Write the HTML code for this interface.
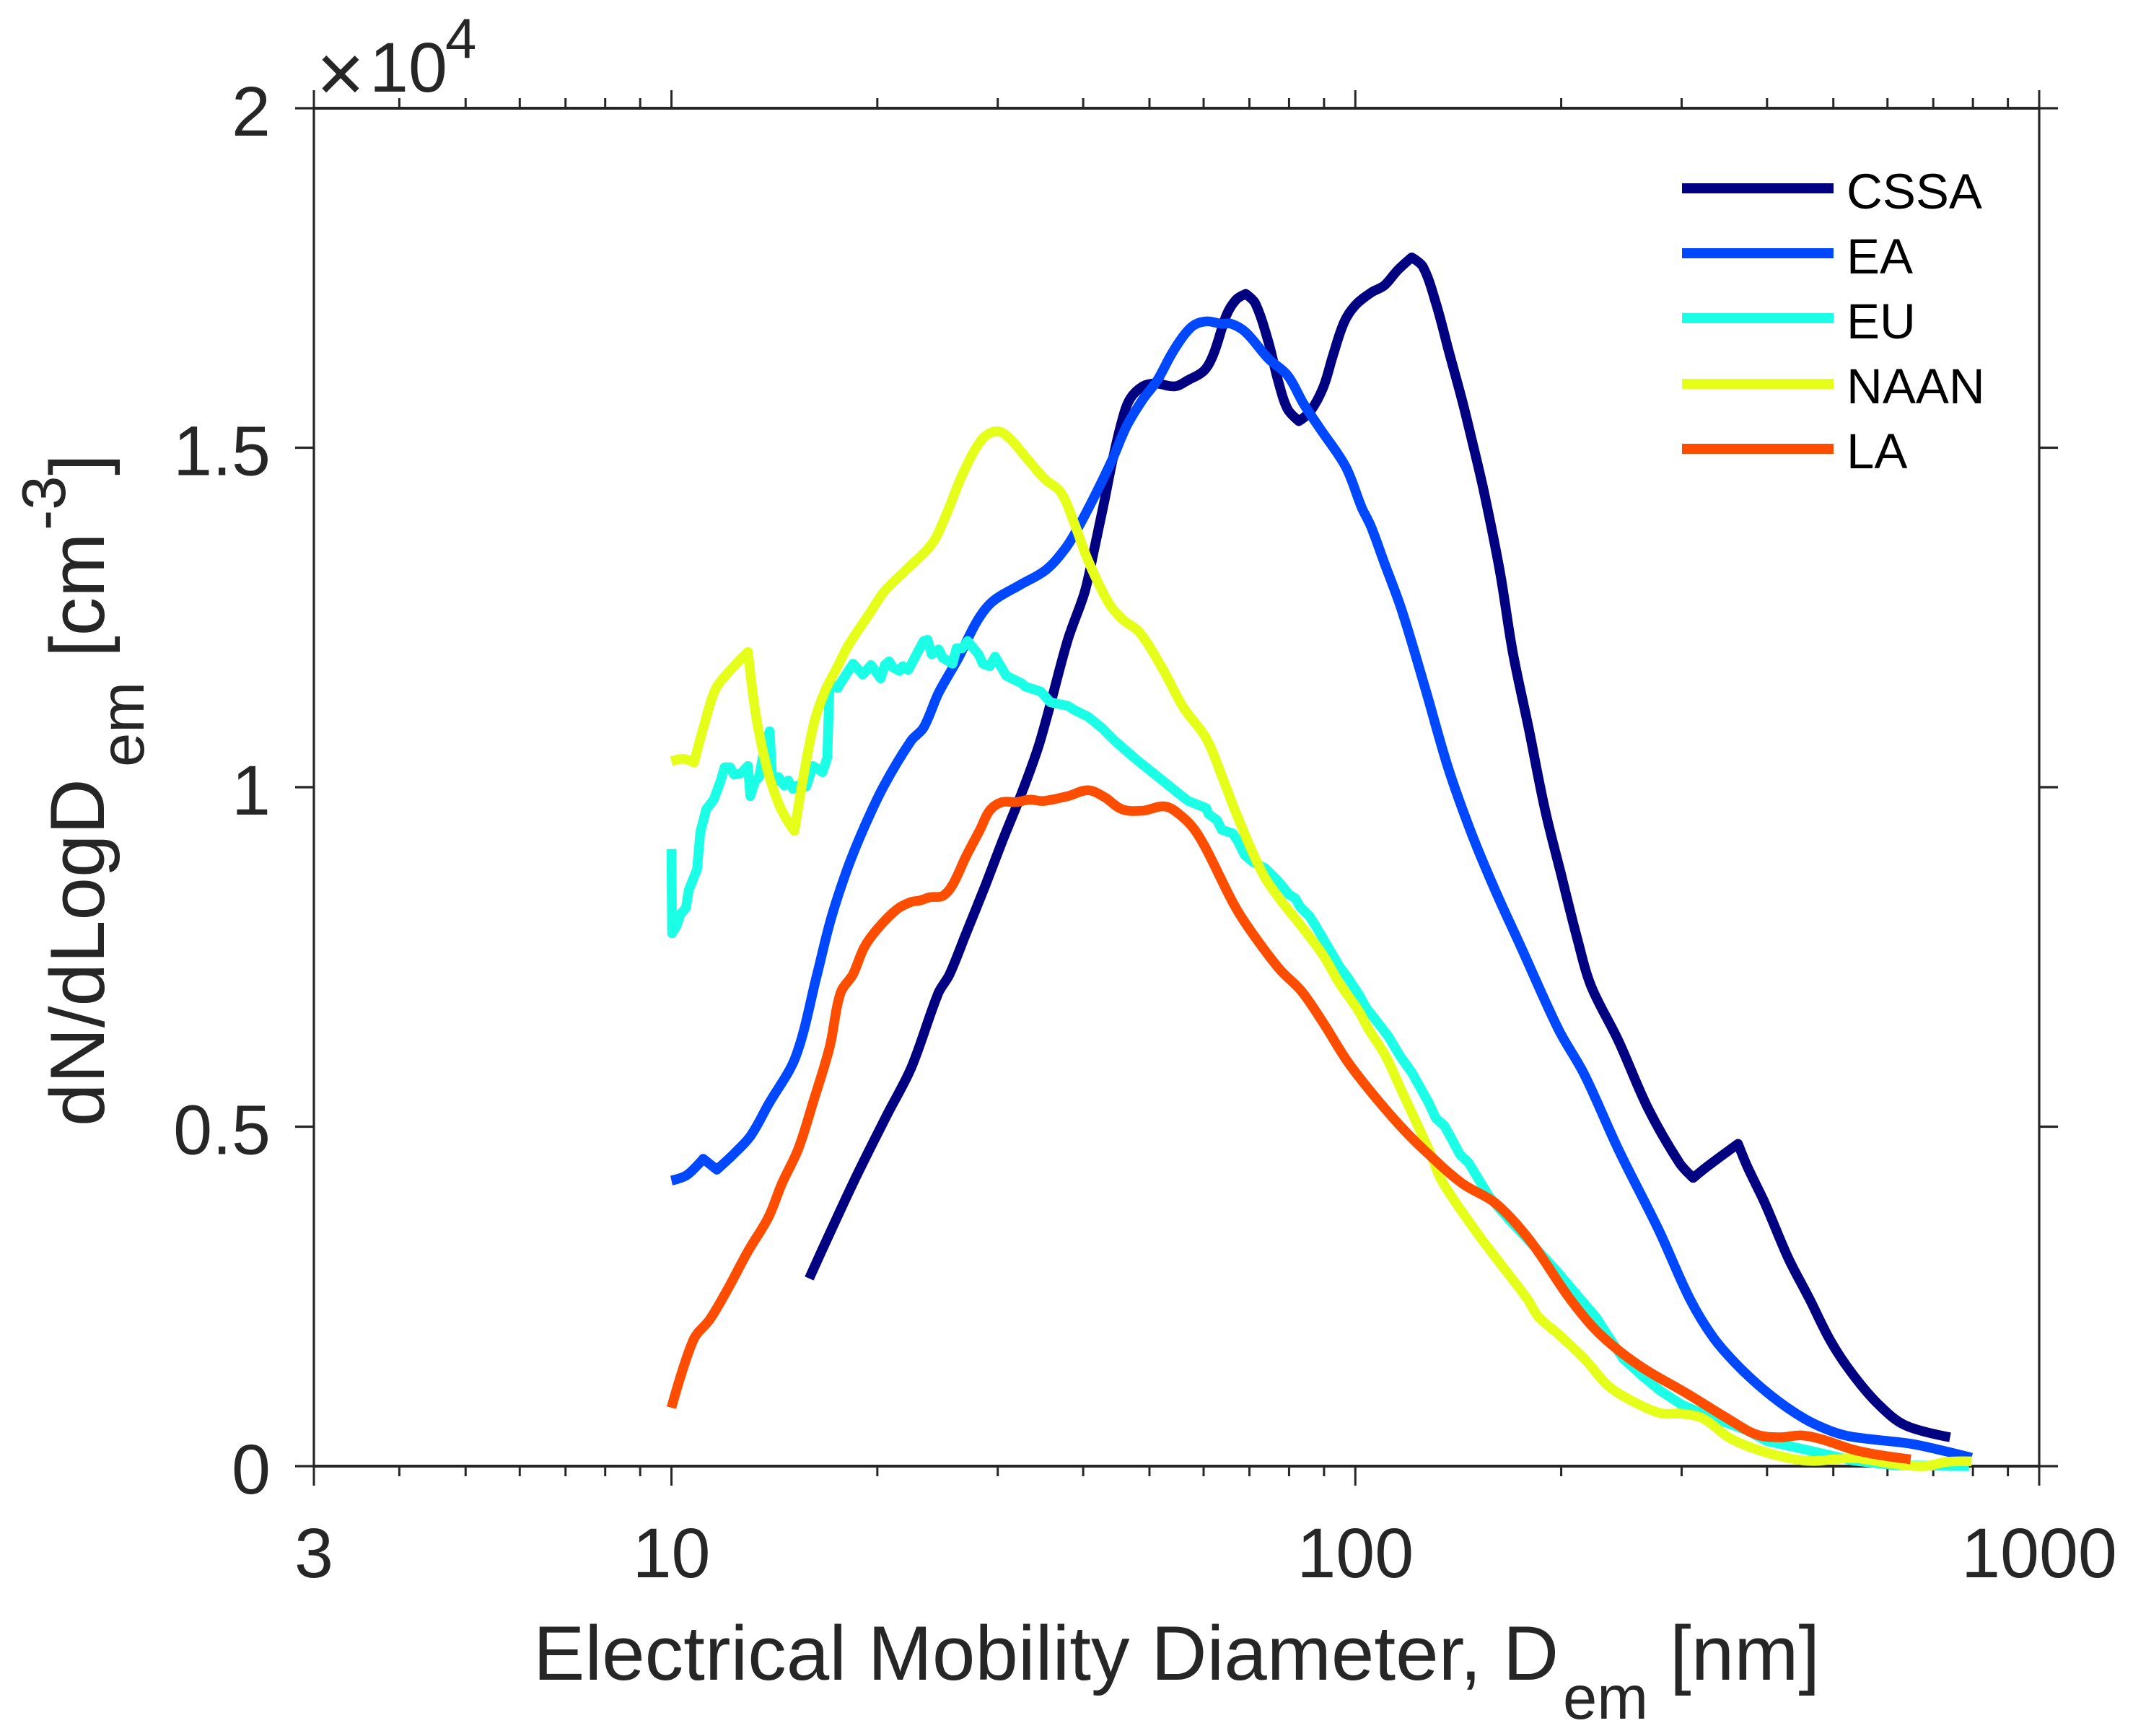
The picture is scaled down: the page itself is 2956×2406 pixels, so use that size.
<!DOCTYPE html>
<html lang="en">
<head>
<meta charset="utf-8">
<title>Particle size distribution by region</title>
<style>
html,body{margin:0;padding:0;background:#fff;}
svg{display:block;}
text{font-family:"Liberation Sans",Arial,sans-serif;}
</style>
</head>
<body>
<svg id="chart" xmlns="http://www.w3.org/2000/svg" width="2956" height="2406" viewBox="0 0 2956 2406">
<rect x="0" y="0" width="2956" height="2406" fill="#ffffff"/>
<g id="axes"></g>
<g id="series"></g>
<g id="legend"></g>
<g id="labels" fill="#262626">
  <text x="472" y="141" font-size="115" text-anchor="middle">×</text>
  <text x="512" y="127" font-size="97">10</text>
  <text x="617" y="80" font-size="78">4</text>
  <g>
    <text x="739" y="2328" font-size="107">Electrical Mobility Diameter, D</text>
    <text x="2166" y="2382" font-size="85">em</text>
    <text x="2314" y="2328" font-size="107">[nm]</text>
  </g>
  <g transform="translate(144,1561) rotate(-90)">
    <text x="0" y="0" font-size="107">dN/dLogD</text>
    <text x="498" y="55" font-size="85">em</text>
    <text x="650" y="0" font-size="107">[cm</text>
    <text x="826" y="-54" font-size="85">-3</text>
    <text x="902" y="0" font-size="107">]</text>
  </g>
</g>
</svg>
<script>
var yTickValues = [0, 5000, 10000, 15000, 20000];
var yTickLabels = ["0", "0.5", "1", "1.5", "2"];
var xTickValues = [3, 10, 100, 1000];
var xTickLabels = ["3", "10", "100", "1000"];
var xMinorValues = [4, 5, 6, 7, 8, 9, 20, 30, 40, 50, 60, 70, 80, 90, 200, 300, 400, 500, 600, 700, 800, 900];
var seriesNames = ["CSSA", "EA", "EU", "NAAN", "LA"];

var cssaDiameter = [15.9,17.03,18.67,20.65,22.42,24.57,25.5,26.97,28.79,30.44,32.49,34.35,35.65,37.98,40.21,41.54,42.91,44.11,45.57,46.82,48.9,51.04,54.5,56.9,60.08,62.07,64.79,66.96,69.14,71.39,74.61,77.07,79.61,82.7,85.9,89.76,92.68,96.28,100,105.5,110.3,115.1,120.9,125.6,131.2,137,143,147.2,154.1,162.7,169.9,179.4,189.4,199.9,211,221.2,242.4,268,297.8,311.9,326.4,362.7,374.5,397.4,429.6,461.4,495,532.8,582.6,637,740.8];
var cssaValue = [2764,3425,4286,5168,5869,6970,7240,7848,8559,9196,9903,10578,11143,12171,12877,13518,14188,14794,15391,15716,15904,15946,15904,15994,16135,16386,16951,17182,17266,17127,16562,15994,15569,15391,15533,15888,16349,16846,17098,17286,17391,17606,17802,17663,17127,16420,15728,15218,14363,13177,11992,10853,9667,8718,7779,7071,6269,5268,4467,4246,4407,4747,4407,3866,3065,2464,1849,1362,905,601,425];

var eaDiameter = [10,10.53,11.13,11.65,12.36,13.06,13.86,15.19,16.33,17.11,18.09,19.13,20.42,22.4,23.37,24.59,26.23,28.01,29.51,32.34,35.31,37.68,39.37,41.79,44.11,46.31,48.9,51.35,53.9,56.27,58.16,60.71,63.76,65.87,69.14,74.61,79.61,84.07,88.73,96.8,102.2,105.4,110.1,116.9,126.8,136.7,148.1,160.6,174.2,198.2,216.2,242.4,278.1,308.4,334,365.6,406.7,453.3,495,532.8,648.7,709.3,796.6];
var eaValue = [4206,4286,4527,4367,4607,4867,5328,6029,7246,8061,8804,9407,10010,10682,10877,11392,11889,12454,12739,12979,13203,13518,13832,14334,14825,15320,15712,15994,16386,16667,16809,16861,16825,16825,16700,16313,16065,15641,15286,14719,14116,13842,13320,12609,11423,10284,9302,8452,7673,6433,5769,4667,3465,2464,1891,1442,1028,701,521,433,330,248,124];

var euDiameter = [10,10.02,10.17,10.31,10.5,10.6,10.9,11.02,11.24,11.53,11.79,11.96,12.18,12.35,12.64,12.94,13.04,13.24,13.43,13.68,13.92,14.05,14.34,14.61,14.82,15.05,15.3,15.74,16.1,16.63,16.9,17.03,17.51,17.67,18.09,18.43,19.04,19.58,20.23,20.51,20.8,21.09,21.55,21.79,22.2,23.37,23.69,24.02,24.59,24.92,25.76,26.11,26.61,27.1,28.12,28.53,29.2,29.74,30.88,32.49,32.94,34.67,35.82,37.98,38.84,40.66,42.56,44.56,47.72,51.11,56.05,56.96,60.53,61.02,62.77,63.79,66.16,67.25,68.9,70.9,73.8,77.18,80.04,81.68,83.02,85.74,87.49,94.88,97.21,101.2,103.7,111.5,116.2,121,128,131.2,134.9,138.3,142.2,146.5,157,168.1,180,197.3,213.2,225.3,231.6,246.5,264.7,279.3,300.1,328,372.1,399.3,453.3,532.8,614,789.4];
var euValue = [9089,7848,7953,8133,8220,8486,8790,9336,9673,9816,10081,10293,10293,10186,10205,10312,9868,10081,10150,10576,10825,10046,10150,10025,10098,9975,10025,10010,10312,10221,10436,11532,11461,11532,11692,11818,11659,11799,11603,11799,11853,11763,11711,11782,11728,12152,12171,11958,12029,11905,11818,12047,12047,12152,11958,11818,11782,11922,11640,11532,11480,11409,11250,11198,11137,11037,10876,10676,10416,10175,9851,9798,9692,9604,9514,9373,9320,9214,9001,8895,8807,8611,8417,8363,8239,8098,7956,7354,7213,6947,6751,6344,6044,5795,5353,5122,5016,4821,4591,4467,3966,3625,3305,2864,2464,2183,1993,1582,1302,1110,905,741,535,371,248,84,14,0];

var naanDiameter = [10,10.4,10.79,11.15,11.58,12.07,12.94,13.3,13.81,14.34,14.76,15.13,15.59,16.18,16.79,17.43,18.17,19.49,20.46,21.92,24.02,25.14,26.68,28.45,29.92,31.18,33.09,35.12,37.1,38.84,40.66,43.55,45.59,48.38,52.3,56.02,60.55,64.06,66.7,70.9,73.8,78.12,83.35,89.63,94.88,101.2,104.6,110.7,116.2,129,133.7,149.9,160.6,178.4,185.1,198.8,217.2,233.7,251,279.3,300.1,322.5,352.9,385.9,429.6,465.5,504.3,542.2,603.8,678.2,734.1,796.6];
var naanValue = [10381,10417,10365,10895,11428,11675,11993,11037,10258,9761,9514,9355,10150,10968,11428,11746,12100,12561,12879,13180,13580,13981,14622,15123,15243,15143,14842,14542,14341,13881,13340,12719,12479,12278,11738,11177,10716,10117,9657,9019,8664,8310,7956,7531,7106,6698,6433,6044,5582,4591,4206,3465,3065,2464,2203,1931,1562,1192,987,781,773,701,413,248,120,76,104,116,42,0,64,70];

var laDiameter = [10,10.77,11.38,12.08,12.94,13.86,14.51,15.32,16.12,17.03,17.67,18.43,19.13,20.04,21.38,22.4,23.04,23.91,24.93,25.76,26.97,28.26,29.2,30.44,31.9,33.41,34.99,37.98,40.66,42.95,45.59,48.83,52.78,56.05,58.37,60.77,66.43,70.3,77.48,83.35,89.63,97.21,105.4,116.2,127,143.2,160.6,180,206,227.4,260.1,305.4,352.9,385.9,417.9,449.1,482.6,532.8,582.6,648.7];
var laValue = [861,1863,2163,2604,3165,3665,4166,4667,5368,6169,6970,7246,7638,7921,8204,8309,8329,8380,8399,8559,8983,9372,9657,9780,9780,9816,9797,9868,9955,9855,9675,9654,9715,9550,9355,9054,8275,7885,7319,7000,6539,5972,5512,5016,4626,4166,3866,3325,2464,1953,1482,1070,681,465,425,453,391,248,166,100];

var NS = "http://www.w3.org/2000/svg";
var plotLeft = 435, plotRight = 2826, plotTop = 150, plotBottom = 2032;
var xDomainMin = 3, xDomainMax = 1000, yDomainMax = 20000;
var majorTick = 25, minorTick = 14;
var inkColor = "#262626";
var seriesColors = ["#000080", "#0048ff", "#1affe6", "#e6ff1a", "#ff4d00"];
var legendLineY = [261, 351, 441, 532, 622];
var legendTextY = [289, 379, 469, 559, 649];

function xScale(d) {
  return plotLeft + (Math.log10(d / xDomainMin) / Math.log10(xDomainMax / xDomainMin)) * (plotRight - plotLeft);
}
function yScale(v) {
  return plotBottom - (v / yDomainMax) * (plotBottom - plotTop);
}
function svgEl(tag, attrs, parent) {
  var el = document.createElementNS(NS, tag);
  for (var k in attrs) { el.setAttribute(k, attrs[k]); }
  parent.appendChild(el);
  return el;
}

var axesGroup = document.getElementById("axes");
var seriesGroup = document.getElementById("series");
var legendGroup = document.getElementById("legend");

function axisLine(x1, y1, x2, y2, w, name) {
  var el = svgEl("line", {x1: x1, y1: y1, x2: x2, y2: y2, stroke: inkColor, "stroke-width": w}, axesGroup);
  
  
  return el;
}

axisLine(plotLeft, plotBottom, plotRight, plotBottom, 4, "x-axis-bottom");
axisLine(plotLeft, plotTop, plotRight, plotTop, 4, "x-axis-top");
axisLine(plotLeft, plotTop, plotLeft, plotBottom, 3.2, "y-axis-left");
axisLine(plotRight, plotTop, plotRight, plotBottom, 3.2, "y-axis-right");

xTickValues.forEach(function (d, i) {
  var x = xScale(d);
  axisLine(x, plotBottom, x, plotBottom + majorTick + 2, 3, "x-major-tick-bottom");
  axisLine(x, plotTop, x, plotTop - majorTick, 3, "x-major-tick-top");
  var t = svgEl("text", {x: x, y: 2186, "font-size": 97, "text-anchor": "middle", fill: inkColor}, axesGroup);
  
  
  t.textContent = xTickLabels[i];
});
xMinorValues.forEach(function (d) {
  var x = xScale(d);
  axisLine(x, plotBottom, x, plotBottom + minorTick, 3, "x-minor-tick-bottom");
  axisLine(x, plotTop, x, plotTop - minorTick, 3, "x-minor-tick-top");
});
yTickValues.forEach(function (v, i) {
  var y = yScale(v);
  axisLine(plotLeft, y, plotLeft - majorTick - 1, y, 3.2, "y-tick-left");
  axisLine(plotRight, y, plotRight + majorTick + 1, y, 3.2, "y-tick-right");
  var t = svgEl("text", {x: 375, y: y + 38, "font-size": 97, "text-anchor": "end", fill: inkColor}, axesGroup);
  
  
  t.textContent = yTickLabels[i];
});

function unit(ax, ay, bx, by) {
  var len = Math.hypot(bx - ax, by - ay) || 1;
  return [(bx - ax) / len, (by - ay) / len];
}
function tangentAt(p, i) {
  if (i === 0 || i === p.length - 1) { return null; }
  var a = unit(p[i - 1][0], p[i - 1][1], p[i][0], p[i][1]);
  var b = unit(p[i][0], p[i][1], p[i + 1][0], p[i + 1][1]);
  if (a[0] * b[0] + a[1] * b[1] < 0.3) { return null; }
  return unit(p[i - 1][0], p[i - 1][1], p[i + 1][0], p[i + 1][1]);
}
function pathFrom(p, smooth) {
  var d = "M" + p[0][0].toFixed(1) + " " + p[0][1].toFixed(1);
  for (var i = 0; i < p.length - 1; i++) {
    var q0 = p[i], q1 = p[i + 1];
    if (!smooth) {
      d += "L" + q1[0].toFixed(1) + " " + q1[1].toFixed(1);
      continue;
    }
    var seg = Math.hypot(q1[0] - q0[0], q1[1] - q0[1]) / 3;
    var t0 = tangentAt(p, i), t1 = tangentAt(p, i + 1);
    var c0x = t0 ? q0[0] + t0[0] * seg : q0[0], c0y = t0 ? q0[1] + t0[1] * seg : q0[1];
    var c1x = t1 ? q1[0] - t1[0] * seg : q1[0], c1y = t1 ? q1[1] - t1[1] * seg : q1[1];
    d += "C" + c0x.toFixed(1) + " " + c0y.toFixed(1) + " " + c1x.toFixed(1) + " " + c1y.toFixed(1) + " " + q1[0].toFixed(1) + " " + q1[1].toFixed(1);
  }
  return d;
}
function drawSeries(xs, ys, idx, smooth) {
  var pts = xs.map(function (d, i) { return [xScale(d), yScale(ys[i])]; });
  var p = svgEl("path", {d: pathFrom(pts, smooth), fill: "none", stroke: seriesColors[idx], "stroke-width": 13.5, "stroke-linejoin": "round", "stroke-linecap": "butt"}, seriesGroup);
  
  
}
drawSeries(cssaDiameter, cssaValue, 0, true);
drawSeries(eaDiameter, eaValue, 1, true);
drawSeries(euDiameter, euValue, 2, false);
drawSeries(naanDiameter, naanValue, 3, true);
drawSeries(laDiameter, laValue, 4, true);

seriesNames.forEach(function (name, i) {
  var l = svgEl("line", {x1: 2331, x2: 2541, y1: legendLineY[i], y2: legendLineY[i], stroke: seriesColors[i], "stroke-width": 14}, legendGroup);
  
  
  var t = svgEl("text", {x: 2559, y: legendTextY[i], "font-size": 69, fill: "#000000"}, legendGroup);
  
  
  t.textContent = name;
});
</script>
</body>
</html>
